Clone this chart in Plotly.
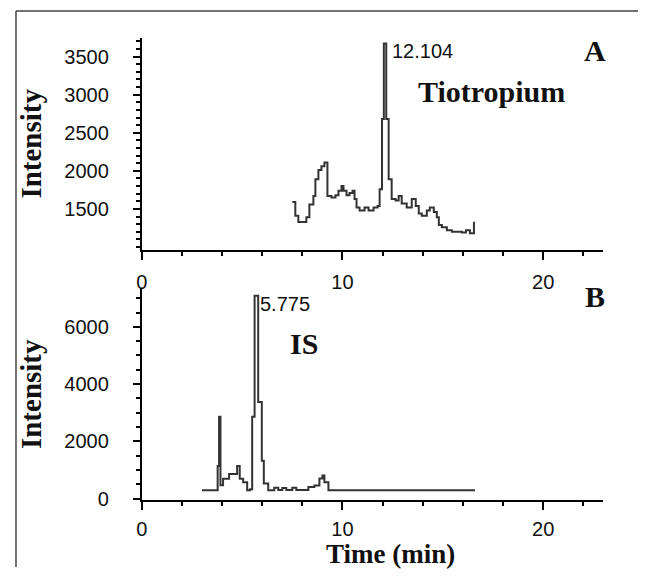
import plotly.graph_objects as go

# Panel A: Tiotropium chromatogram
time_a = [7.50, 7.65, 7.80, 8.20, 8.35, 8.55, 8.65, 8.80, 8.95, 9.10, 9.25, 9.45, 9.65, 9.80,
          9.95, 10.05, 10.20, 10.35, 10.50, 10.60, 10.70, 10.85, 11.10, 11.30, 11.55, 11.75,
          11.85, 11.97, 12.06, 12.18, 12.30, 12.45, 12.65, 12.80, 12.95, 13.20, 13.45, 13.65,
          13.80, 13.95, 14.20, 14.35, 14.55, 14.70, 14.80, 14.95, 15.20, 15.45, 15.70, 15.95,
          16.15, 16.35, 16.55, 16.60]
intensity_a = [1590, 1410, 1330, 1390, 1560, 1670, 1890, 2010, 2060, 2110, 1670, 1650, 1680, 1740,
               1800, 1740, 1680, 1710, 1740, 1630, 1520, 1480, 1520, 1480, 1520, 1540,
               1760, 2680, 3670, 2680, 1890, 1630, 1610, 1670, 1570, 1520, 1630, 1540,
               1440, 1410, 1480, 1520, 1460, 1390, 1290, 1260, 1220, 1200, 1200, 1190,
               1220, 1180, 1320, 1320]

# Panel B: internal standard chromatogram
time_b = [3.00, 3.78, 3.85, 3.92, 4.05, 4.35, 4.75, 4.88, 5.05, 5.25, 5.40, 5.50, 5.62, 5.80,
          5.98, 6.08, 6.30, 6.60, 6.80, 7.00, 7.20, 7.50, 7.70, 8.10, 8.30, 8.60, 8.85, 9.00,
          9.10, 9.30, 16.60]
intensity_b = [290, 1140, 2860, 460, 690, 860, 1140, 690, 570, 290, 320, 2860, 7090, 3370,
               1320, 520, 290, 380, 300, 370, 300, 380, 300, 300, 400, 450, 700, 800,
               570, 290, 290]

x_ticks = [0, 10, 20]
y_ticks_a = [1500, 2000, 2500, 3000, 3500]
y_ticks_b = [0, 2000, 4000, 6000]

peak_a_label = "12.104"
peak_b_label = "5.775"

LINE = "#333333"
SERIF = "Liberation Serif"
SANS = "Liberation Sans"

# the page body adds an 8px margin, so the figure is laid out 8px smaller
W, H = 638, 568

fig = go.Figure()
fig.add_trace(go.Scatter(x=time_a, y=intensity_a, mode="lines", line_shape="hv",
                         line=dict(color=LINE, width=2), xaxis="x", yaxis="y", showlegend=False))
fig.add_trace(go.Scatter(x=time_b, y=intensity_b, mode="lines", line_shape="hv",
                         line=dict(color=LINE, width=2), xaxis="x2", yaxis="y2", showlegend=False))

xdom = [129/W, 595/W]
ax_common = dict(showline=True, linecolor="black", linewidth=2, ticks="outside",
                 tickcolor="black", tickwidth=2, showgrid=False, zeroline=False,
                 tickfont=dict(family=SANS, size=20, color="#111"))

fig.update_layout(
    width=W, height=H,
    margin=dict(l=0, r=0, t=0, b=0),
    paper_bgcolor="white", plot_bgcolor="white",
    xaxis=dict(domain=xdom, range=[0, 23], anchor="y", tickvals=x_ticks, ticklen=8,
               ticklabelstandoff=5,
               minor=dict(dtick=2, tick0=0, ticks="outside", ticklen=4, tickcolor="black", tickwidth=2),
               **ax_common),
    yaxis=dict(domain=[1-246/H, 1-30/H], range=[960, 3750], anchor="x", tickvals=y_ticks_a,
               ticklen=7, ticklabelstandoff=20,
               minor=dict(dtick=100, tick0=0, ticks="outside", ticklen=4, tickcolor="black", tickwidth=1.5),
               title=dict(text="<b>Intensity</b>", font=dict(family=SERIF, size=29, color="#111"), standoff=14),
               **ax_common),
    xaxis2=dict(domain=xdom, range=[0, 23], anchor="y2", tickvals=x_ticks, ticklen=8,
                ticklabelstandoff=2,
                minor=dict(dtick=2, tick0=0, ticks="outside", ticklen=4, tickcolor="black", tickwidth=2),
                **ax_common),
    yaxis2=dict(domain=[1-500/H, 1-285/H], range=[-55, 7340], anchor="x2", tickvals=y_ticks_b,
                ticklen=7, ticklabelstandoff=20,
                minor=dict(dtick=500, tick0=0, ticks="outside", ticklen=4, tickcolor="black", tickwidth=1.5),
                title=dict(text="<b>Intensity</b>", font=dict(family=SERIF, size=29, color="#111"), standoff=14),
                **ax_common),
)

annos = [
    dict(x=12.104, y=3670, xref="x", yref="y", text=peak_a_label, xanchor="left", yanchor="middle",
         xshift=6, yshift=-7, font=dict(family=SANS, size=20, color="#111")),
    dict(x=5.775, y=7090, xref="x2", yref="y2", text=peak_b_label, xanchor="left", yanchor="middle",
         xshift=1, yshift=-8, font=dict(family=SANS, size=20, color="#111")),
    dict(x=407/W, y=1-85/H, xref="paper", yref="paper", text="<b>Tiotropium</b>", xanchor="left",
         yanchor="middle", font=dict(family=SERIF, size=30, color="#111")),
    dict(x=278/W, y=1-341/H, xref="paper", yref="paper", text="<b>IS</b>", xanchor="left",
         yanchor="middle", font=dict(family=SERIF, size=30, color="#111")),
    dict(x=587/W, y=1-43/H, xref="paper", yref="paper", text="<b>A</b>", xanchor="center",
         yanchor="middle", font=dict(family=SERIF, size=30, color="#111")),
    dict(x=587/W, y=1-293/H, xref="paper", yref="paper", text="<b>B</b>", xanchor="center",
         yanchor="middle", font=dict(family=SERIF, size=30, color="#111")),
    dict(x=380/W, y=0, xref="paper", yref="paper", text="<b>Time (min)</b>", xanchor="center",
         yanchor="bottom", yshift=-3, font=dict(family=SERIF, size=27, color="#111")),
]
for a in annos:
    a["showarrow"] = False
    a["borderpad"] = 0
fig.update_layout(annotations=annos)

fig.update_layout(shapes=[
    dict(type="line", xref="paper", yref="paper", x0=2/W, x1=1.0, y0=1-3/H, y1=1-3/H,
         line=dict(color="#444", width=1.5)),
    dict(type="line", xref="paper", yref="paper", x0=2/W, x1=2/W, y0=1-3/H, y1=0,
         line=dict(color="#444", width=1.5)),
])

fig.write_html("out.html")
